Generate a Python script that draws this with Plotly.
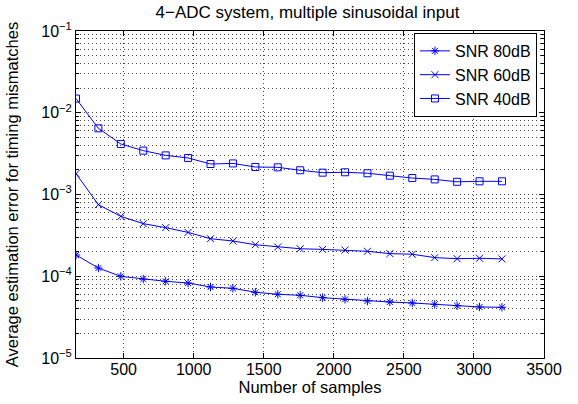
import plotly.graph_objects as go

samples = [160, 320, 480, 640, 800, 960, 1120, 1280, 1440, 1600, 1760,
           1920, 2080, 2240, 2400, 2560, 2720, 2880, 3040, 3200]
snr80 = [1.82e-4, 1.26e-4, 9.97e-5, 9.24e-5, 8.67e-5, 8.26e-5, 7.39e-5, 7.12e-5, 6.37e-5, 6.02e-5,
         5.85e-5, 5.47e-5, 5.22e-5, 4.98e-5, 4.84e-5, 4.71e-5, 4.54e-5, 4.36e-5, 4.21e-5, 4.17e-5]
snr60 = [1.80e-3, 7.51e-4, 5.40e-4, 4.40e-4, 3.93e-4, 3.44e-4, 2.88e-4, 2.70e-4, 2.43e-4, 2.28e-4,
         2.17e-4, 2.13e-4, 2.09e-4, 2.02e-4, 1.89e-4, 1.86e-4, 1.69e-4, 1.64e-4, 1.66e-4, 1.63e-4]
snr40 = [1.49e-2, 6.45e-3, 4.15e-3, 3.44e-3, 3.01e-3, 2.80e-3, 2.36e-3, 2.40e-3, 2.17e-3, 2.15e-3,
         1.98e-3, 1.85e-3, 1.87e-3, 1.82e-3, 1.70e-3, 1.59e-3, 1.53e-3, 1.43e-3, 1.45e-3, 1.45e-3]

series_names = ["SNR 80dB", "SNR 60dB", "SNR 40dB"]
series_symbols = ["asterisk-open", "x-thin-open", "square-open"]

x_ticks = [500, 1000, 1500, 2000, 2500, 3000, 3500]
y_ticks = [1e-5, 1e-4, 1e-3, 1e-2, 1e-1]
y_ticktext = ["10<sup>\u22125</sup>", "10<sup>\u22124</sup>", "10<sup>\u22123</sup>",
              "10<sup>\u22122</sup>", "10<sup>\u22121</sup>"]
y_minor = [m * 10.0 ** e for e in range(-5, -1) for m in range(2, 10)]

FONT = "Liberation Sans, Arial, Helvetica, sans-serif"
BLUE = "rgb(0,0,255)"
GRID = "rgb(70,70,70)"
GRIDDASH = "1px,3px"

fig = go.Figure()
for name, vals, sym in zip(series_names, [snr80, snr60, snr40], series_symbols):
    fig.add_trace(go.Scatter(
        x=samples, y=vals, name=name, mode="lines+markers",
        line=dict(color=BLUE, width=1),
        marker=dict(symbol=sym, size=7, color=BLUE, line=dict(color=BLUE, width=1)),
    ))

fig.update_layout(
    width=578, height=404,
    margin=dict(l=76, r=34, t=31, b=46, autoexpand=False),
    paper_bgcolor="white", plot_bgcolor="white",
    font=dict(family=FONT, size=16, color="black"),
    title=dict(text="4\u2212ADC system, multiple sinusoidal input", x=0.532, xanchor="center",
               y=0.971, yanchor="middle", font=dict(size=17, color="black")),
    showlegend=True,
    legend=dict(x=0.985, xanchor="right", y=0.994, yanchor="top",
                bgcolor="white", bordercolor="black", borderwidth=1,
                font=dict(size=16), tracegroupgap=0, itemwidth=30),
)

fig.update_xaxes(
    range=[160, 3500], tickvals=x_ticks, automargin=False,
    showline=True, linecolor="black", linewidth=1, mirror="ticks",
    ticks="inside", ticklen=5, tickcolor="black",
    showgrid=True, gridcolor=GRID, griddash=GRIDDASH, gridwidth=1,
    zeroline=False, ticklabelstandoff=-3,
    title=dict(text="Number of samples", standoff=2, font=dict(size=16.5)),
    tickfont=dict(size=16),
)
fig.update_yaxes(
    type="log", range=[-5, -1], tickvals=y_ticks, ticktext=y_ticktext, automargin=False,
    showline=True, linecolor="black", linewidth=1, mirror="ticks",
    ticks="inside", ticklen=5, tickcolor="black",
    showgrid=True, gridcolor=GRID, griddash=GRIDDASH, gridwidth=1,
    minor=dict(tickmode="array", tickvals=y_minor, ticks="inside", ticklen=3,
               tickcolor="black", showgrid=True, gridcolor=GRID,
               griddash=GRIDDASH, gridwidth=1),
    zeroline=False,
    title=dict(text="Average estimation error for timing mismatches", standoff=18,
               font=dict(size=16.5)),
    tickfont=dict(size=16),
)

fig.write_html("out.html", config={"displayModeBar": False},
               post_script="document.body.style.margin='0px';")
